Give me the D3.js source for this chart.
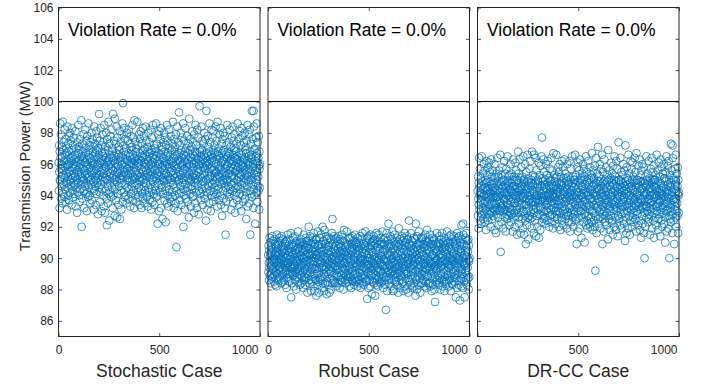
<!DOCTYPE html>
<html><head><meta charset="utf-8">
<script src="https://cdn.jsdelivr.net/npm/d3@7"></script>
<style>
body{margin:0;background:#fff}
svg{display:block}
text{font-family:"Liberation Sans",Arial,Helvetica,sans-serif}
</style>
</head><body>
<svg id="chart" width="704" height="386"></svg>
<script>
// ---------- data ----------
const panelNames = ["Stochastic Case", "Robust Case", "DR-CC Case"];
const violationLabels = ["Violation Rate = 0.0%", "Violation Rate = 0.0%", "Violation Rate = 0.0%"];
const yLabel = "Transmission Power (MW)";
const yTicks = [86, 88, 90, 92, 94, 96, 98, 100, 102, 104, 106];
const xTicks = [0, 500, 1000];
const limitValue = 100;

const stochastic = [
96.1,94.3,97.2,95.5,93.2,96.8,95.0,98.6,94.9,96.4,95.7,97.9,93.8,96.0,95.2,94.6,97.1,96.5,93.5,95.9,
98.7,95.3,94.1,96.9,95.6,97.4,94.7,96.2,93.9,95.1,98.2,96.6,94.4,95.8,97.6,93.6,96.3,95.4,94.8,97.0,
96.7,93.1,95.9,98.4,94.5,96.0,95.2,97.3,94.0,96.8,95.5,93.7,97.8,96.1,94.9,95.6,98.0,94.2,96.4,95.0,
97.5,94.6,96.2,95.3,93.4,96.9,95.8,98.3,94.3,96.5,95.1,97.2,93.9,96.0,94.8,97.7,95.4,96.3,94.1,95.7,
96.6,94.7,95.2,98.1,93.3,96.4,95.9,97.0,94.5,96.1,95.0,92.9,97.4,95.6,94.2,96.7,95.3,98.5,94.8,96.2,
95.5,97.1,94.0,96.3,93.6,95.8,97.6,94.4,96.9,95.2,94.7,96.0,98.8,95.4,92.0,96.5,95.1,97.3,93.8,96.2,
94.9,96.8,95.7,97.9,94.3,95.0,96.4,93.2,97.0,95.6,94.6,96.1,98.2,95.3,94.1,96.7,95.9,97.5,94.8,93.0,
96.3,95.4,97.8,94.2,96.0,95.1,93.9,96.6,98.6,95.7,94.5,96.9,95.2,97.2,94.0,96.4,95.8,93.5,97.4,95.0,
96.1,94.7,95.5,98.0,93.7,96.2,95.3,97.6,94.4,96.8,95.9,94.9,97.1,96.5,93.1,95.6,98.4,94.3,96.0,95.2,
97.3,94.6,96.7,95.0,93.4,96.3,95.7,98.1,94.1,96.9,95.4,97.7,94.8,96.0,95.1,92.8,97.0,96.4,94.5,95.8,
96.6,99.2,95.3,94.2,97.5,96.1,93.6,95.5,98.3,94.7,96.2,95.0,97.2,93.0,96.8,95.6,94.4,97.9,96.3,95.2,
94.0,96.5,97.4,95.4,93.3,96.0,98.5,94.9,95.7,96.7,92.9,97.1,95.1,94.3,96.4,95.8,98.0,93.8,96.1,92.1,
95.0,97.6,96.2,94.6,95.5,93.5,96.9,98.7,94.1,95.9,96.3,92.4,97.3,95.2,94.8,96.6,95.4,97.8,94.2,96.0,
95.7,93.9,98.2,96.4,94.5,95.1,97.0,96.8,93.2,95.6,99.2,94.0,96.2,95.3,97.5,94.7,96.5,95.0,92.7,98.9,
96.1,94.4,95.8,97.3,93.7,96.7,95.2,98.4,94.9,96.0,92.6,97.7,95.5,94.1,96.3,95.9,93.4,97.1,96.6,95.4,
94.6,96.9,95.1,98.1,92.5,96.2,95.7,97.4,94.3,95.0,96.5,93.1,97.9,95.3,94.8,96.0,98.6,95.6,93.6,99.9,
96.4,95.2,97.2,94.2,96.8,95.5,98.3,93.9,96.1,94.7,97.6,95.8,96.6,94.0,95.4,97.0,96.3,93.5,95.0,98.0,
95.7,94.5,96.2,97.5,95.3,93.8,96.7,95.1,98.2,94.4,96.0,95.9,97.3,94.9,96.5,93.3,95.6,97.8,96.1,94.1,
96.9,95.4,94.6,97.1,96.3,95.0,98.5,93.7,96.6,95.2,94.3,97.7,96.0,95.8,93.2,96.4,98.8,95.5,94.8,96.2,
95.1,97.4,94.0,96.8,95.6,93.6,97.0,96.5,94.7,95.3,98.7,96.1,94.2,95.9,97.2,93.9,96.3,95.0,94.5,97.9,
96.0,95.4,93.4,97.6,96.7,94.9,95.2,98.1,94.4,96.2,95.7,93.2,97.3,96.5,95.1,94.1,96.9,98.3,95.5,93.8,
96.4,95.0,97.8,94.6,96.1,95.8,93.5,97.0,96.6,94.3,95.3,98.4,96.0,94.8,95.6,97.5,93.9,96.3,95.2,94.0,
97.1,96.8,95.4,93.3,96.2,98.0,94.5,95.9,96.5,94.2,97.4,95.1,93.7,96.7,95.5,94.7,98.2,96.0,95.3,93.1,
96.9,95.7,94.4,97.7,96.1,95.0,93.6,96.4,98.5,94.9,95.8,96.6,94.1,97.2,95.2,93.4,96.3,95.6,94.6,97.0,
95.9,94.3,96.8,98.6,95.1,93.9,96.5,95.4,97.3,94.0,96.2,92.2,95.7,97.9,96.0,94.8,95.3,96.7,93.0,98.1,
96.3,95.5,94.2,97.6,96.0,95.2,93.2,96.6,98.3,94.7,95.0,96.9,94.5,97.1,95.8,92.5,96.4,95.1,94.1,97.4,
95.6,96.2,94.9,98.0,95.3,93.7,96.8,95.9,97.7,94.3,96.1,92.3,95.4,97.2,96.5,94.6,95.0,98.5,93.5,96.0,
95.7,94.0,96.7,97.5,95.2,93.3,96.3,95.8,98.2,94.4,96.0,95.1,93.8,97.0,96.6,94.8,95.5,97.8,93.6,96.2,
95.0,96.9,94.2,97.3,95.6,93.9,96.1,98.7,94.7,95.3,96.4,93.2,97.6,95.9,94.5,96.8,95.1,97.1,94.0,96.5,
95.4,93.5,97.9,96.0,90.7,95.7,94.3,96.6,98.4,95.2,93.0,96.2,95.8,97.4,94.9,96.3,95.0,99.3,94.1,96.7,
95.5,93.7,97.2,96.1,94.6,95.3,98.0,96.9,94.2,95.9,93.4,96.4,97.7,95.1,94.8,96.0,95.6,98.6,94.4,92.0,
96.6,95.0,97.5,94.0,96.2,95.7,93.1,96.8,98.3,94.7,95.4,96.5,93.8,97.0,95.2,94.3,96.1,95.8,97.8,93.6,
96.3,95.1,94.5,97.3,96.7,95.5,92.6,96.0,98.9,94.9,95.3,96.9,94.1,97.6,95.9,93.3,96.4,95.0,94.6,97.1,
95.6,96.2,94.4,98.1,95.2,93.9,96.6,95.8,97.4,94.0,96.0,92.9,95.4,97.9,96.5,94.8,95.1,96.8,93.5,98.5,
96.1,95.3,94.2,97.2,96.4,95.0,93.2,96.7,98.2,94.6,95.7,96.3,94.9,97.7,95.5,92.8,96.0,95.9,94.3,99.7,
96.8,95.2,97.0,94.1,96.2,95.6,93.7,96.5,98.4,94.7,95.1,96.9,94.4,97.5,96.0,93.4,95.8,96.3,94.9,97.3,
95.4,96.6,94.0,98.0,95.3,93.8,96.1,95.7,97.6,94.5,96.4,92.4,95.0,99.4,96.7,94.2,95.9,96.2,93.1,97.8,
96.5,95.1,94.6,97.1,96.0,95.5,93.5,96.8,98.6,94.8,95.2,96.3,94.3,97.4,95.7,93.0,96.6,95.3,94.0,98.2,
96.2,95.8,94.7,97.7,96.4,95.0,93.6,96.9,98.1,94.2,95.6,96.1,94.5,97.2,95.4,93.9,96.7,95.2,94.8,98.4,
96.0,95.5,94.1,97.5,96.3,95.1,93.3,96.6,98.7,94.6,95.9,96.8,94.4,97.0,95.3,93.7,96.5,95.7,94.9,97.9,
95.2,96.4,94.0,98.3,95.8,93.4,96.1,95.6,97.3,94.7,96.7,92.7,95.4,97.6,96.2,94.3,95.0,98.0,93.8,96.9,
95.5,94.8,96.3,97.8,95.1,93.2,96.0,95.7,91.5,94.5,96.6,95.3,93.6,97.2,96.4,94.9,95.9,98.5,94.2,96.8,
95.0,96.5,94.6,97.4,96.1,95.4,93.9,96.7,98.2,94.1,95.6,96.2,94.4,97.1,95.8,93.1,96.3,95.2,94.7,97.7,
96.0,95.3,94.3,98.4,96.6,95.7,93.5,96.2,97.5,94.8,95.1,96.9,94.0,97.9,95.5,92.9,96.4,95.9,94.5,97.0,
95.6,96.8,94.2,97.3,96.3,95.0,93.7,96.5,98.6,94.6,95.8,96.1,94.9,97.6,95.2,93.4,96.7,95.4,94.1,98.1,
96.2,95.7,94.4,97.2,96.0,95.3,93.0,96.6,98.3,94.7,95.5,96.4,94.0,97.8,95.9,93.6,96.1,95.1,94.8,97.4,
95.8,96.3,94.5,98.0,95.4,93.8,96.9,95.6,97.1,94.2,96.7,92.5,95.0,97.5,96.2,94.6,95.3,98.5,93.3,96.0,
95.2,94.9,96.5,97.9,95.7,93.5,96.1,95.9,98.2,94.3,96.8,91.5,95.5,97.3,96.4,94.1,95.0,96.6,93.9,99.4,
96.3,95.1,94.7,97.6,96.0,95.8,93.2,99.4,98.4,94.4,95.4,96.9,94.0,97.0,95.6,92.2,96.2,95.3,94.8,97.7,
96.5,95.0,94.2,98.6,96.7,95.5,93.6,96.1,97.4,94.6,95.2,96.4,94.3,97.8,95.9,93.1,96.8,95.7,94.5,96.0
];

const robust = [
90.2,89.1,90.8,89.7,88.6,90.5,89.4,91.3,88.9,90.1,89.8,91.0,88.4,90.3,89.5,89.0,90.7,90.4,88.7,89.9,
91.4,89.6,88.8,90.6,89.3,91.1,89.2,90.0,88.5,89.7,91.2,90.3,88.9,89.9,90.9,88.3,90.2,89.4,89.1,90.8,
90.4,88.2,89.8,91.5,89.0,90.1,89.5,90.9,88.6,90.6,89.7,88.7,91.0,90.2,89.3,89.9,91.3,88.8,90.3,89.4,
91.1,89.2,90.0,89.6,88.4,90.7,89.9,91.4,88.9,90.4,89.3,90.8,88.5,90.1,89.0,91.2,89.7,90.5,88.6,89.8,
90.6,89.1,89.5,91.0,88.3,90.3,89.8,90.9,89.2,90.0,89.4,88.1,91.1,89.7,88.8,90.5,89.6,91.5,89.0,90.2,
89.7,90.8,88.7,90.4,88.5,89.9,91.2,89.0,90.6,89.5,89.1,90.1,91.6,89.4,87.5,90.4,89.3,90.9,88.4,90.2,
89.0,90.7,89.8,91.3,88.9,89.4,90.3,88.2,90.8,89.6,89.2,90.0,91.4,89.5,88.6,90.5,89.9,91.0,89.1,88.0,
90.3,89.7,91.1,88.8,90.1,89.3,88.5,90.6,91.7,89.8,89.0,90.7,89.4,90.9,88.7,90.4,89.9,88.3,91.0,89.2,
90.2,88.9,89.6,91.2,88.4,90.1,89.5,91.0,88.8,90.6,90.0,89.1,90.8,90.4,88.1,89.7,91.5,88.6,90.0,89.4,
90.9,88.8,90.5,89.3,88.3,90.2,89.8,91.3,88.7,90.7,89.6,91.1,89.0,90.1,89.2,87.8,90.8,90.3,88.9,89.9,
90.6,92.0,89.5,88.6,91.1,90.2,88.4,89.7,91.4,89.1,90.3,89.3,90.9,87.9,90.6,89.8,88.8,91.3,90.2,89.4,
88.5,90.4,91.0,89.6,88.2,90.0,91.6,89.0,89.8,90.7,87.9,90.9,89.3,88.7,90.4,90.0,91.2,88.6,90.2,87.6,
89.3,91.2,90.2,89.0,89.7,88.3,90.8,91.7,88.5,89.9,90.3,87.8,90.9,89.4,89.1,90.6,89.6,91.3,88.7,90.1,
89.8,88.6,91.5,90.4,88.8,89.4,90.9,90.7,88.1,89.7,92.0,88.4,90.2,89.5,91.1,89.0,90.5,89.3,87.9,91.8,
90.1,88.8,89.9,90.9,88.4,90.6,89.4,91.4,89.1,90.0,87.7,91.2,89.7,88.5,90.3,89.9,88.3,90.8,90.5,89.6,
89.0,90.7,89.3,91.3,87.8,90.2,89.8,91.0,88.7,89.2,90.4,88.0,91.2,89.5,89.1,90.0,91.6,89.7,88.4,92.5,
90.4,89.4,90.9,88.6,90.6,89.6,91.4,88.5,90.1,89.0,91.2,89.9,90.5,88.4,89.5,90.8,90.3,88.2,89.3,91.3,
89.8,88.9,90.2,91.1,89.5,88.4,90.6,89.3,91.4,88.8,90.0,89.9,90.9,89.1,90.4,88.1,89.7,91.2,90.1,88.6,
90.7,89.6,88.9,90.8,90.3,89.2,91.5,88.5,90.5,89.4,88.7,91.1,90.0,89.8,88.0,90.4,91.8,89.7,89.0,90.2,
89.3,91.0,88.6,90.7,89.7,88.4,90.8,90.4,88.9,89.5,91.7,90.1,88.7,89.9,90.9,88.5,90.3,89.2,88.8,91.3,
90.0,89.5,88.2,91.2,90.6,89.0,89.4,91.3,88.8,90.2,89.8,88.1,90.9,90.5,89.3,88.6,90.7,91.4,89.6,88.5,
90.4,89.2,91.1,88.9,90.1,89.9,88.3,90.8,90.6,88.7,89.5,91.5,90.0,89.0,89.7,91.0,88.5,90.3,89.4,88.6,
90.9,90.7,89.6,88.2,90.2,91.3,88.8,89.9,90.5,88.6,91.0,89.3,88.4,90.6,89.7,89.1,91.4,90.0,89.5,88.1,
90.8,89.8,88.8,91.2,90.1,89.2,88.4,90.4,91.6,89.0,89.9,90.6,88.7,90.9,89.4,88.3,90.3,89.7,88.9,90.7,
89.9,88.7,90.8,91.7,89.3,88.5,90.5,89.6,91.0,88.6,90.2,87.4,89.8,91.3,90.0,89.1,89.5,90.7,88.1,91.4,
90.3,89.6,88.6,91.2,90.0,89.4,88.2,90.6,91.5,89.0,89.2,90.8,88.9,91.0,89.8,87.7,90.4,89.3,88.5,91.1,
89.7,90.2,89.0,91.4,89.5,88.4,90.8,89.9,91.2,88.7,90.1,87.6,89.6,90.9,90.5,88.9,89.2,91.6,88.3,90.0,
89.8,88.6,90.7,91.1,89.4,88.2,90.3,89.9,91.5,88.8,90.0,89.3,88.5,90.9,90.6,89.1,89.7,91.3,88.4,90.2,
89.2,90.9,88.7,91.0,89.6,88.5,90.1,91.7,89.0,89.5,90.4,88.1,91.2,89.9,88.8,90.8,89.3,90.9,88.6,90.5,
89.5,88.3,91.3,90.0,86.7,89.8,88.8,90.6,91.6,89.4,87.9,90.2,89.8,91.1,89.1,90.3,89.2,92.2,88.6,90.7,
89.6,88.4,90.9,90.1,89.0,89.5,91.4,90.8,88.7,89.9,88.2,90.4,91.2,89.3,89.1,90.0,89.7,91.7,88.9,87.9,
90.6,89.2,91.1,88.6,90.2,89.8,88.0,90.8,91.5,89.0,89.6,90.5,88.5,90.9,89.4,88.8,90.1,89.9,91.3,88.3,
90.3,89.3,89.0,91.0,90.7,89.7,87.8,90.0,91.9,89.1,89.5,90.9,88.6,91.2,89.9,88.1,90.4,89.2,88.9,90.8,
89.7,90.2,88.8,91.4,89.4,88.4,90.6,89.8,91.1,88.5,90.0,87.9,89.6,91.3,90.5,89.0,89.3,90.8,88.2,91.6,
90.1,89.5,88.7,91.0,90.4,89.2,88.0,90.7,91.4,89.0,89.8,90.3,89.1,91.2,89.6,87.8,90.0,89.9,88.6,92.4,
90.8,89.4,90.9,88.5,90.2,89.7,88.3,90.5,91.6,88.9,89.3,90.8,88.7,91.1,90.0,88.1,89.9,90.3,89.1,91.0,
89.6,90.6,88.4,91.3,89.5,88.2,90.1,89.8,91.2,88.8,90.4,87.6,89.2,92.2,90.7,88.6,89.9,90.2,88.0,91.4,
90.5,89.3,88.9,90.9,90.0,89.6,88.3,90.8,91.7,89.1,89.4,90.3,88.7,91.0,89.8,87.8,90.6,89.5,88.4,91.3,
90.2,89.9,89.0,91.2,90.4,89.2,88.4,90.9,91.3,88.6,89.7,90.1,88.9,90.9,89.6,88.2,90.7,89.4,89.1,91.5,
90.0,89.7,88.5,91.1,90.3,89.3,88.1,90.6,91.8,88.9,89.9,90.8,88.8,91.0,89.5,88.4,90.5,89.8,89.2,91.2,
89.4,90.4,88.4,91.5,89.8,88.2,90.1,89.7,90.9,89.0,90.7,87.9,89.6,91.1,90.2,88.7,89.3,91.3,88.3,90.9,
89.7,89.1,90.3,91.2,89.4,88.0,90.0,89.8,87.2,88.8,90.6,89.5,88.5,90.9,90.4,89.2,89.9,91.6,88.6,90.8,
89.3,90.5,88.9,91.0,90.1,89.6,88.3,90.7,91.4,88.4,89.7,90.2,88.7,90.9,89.8,88.0,90.3,89.4,89.0,91.2,
90.0,89.5,88.6,91.6,90.6,89.8,88.2,90.2,91.0,89.1,89.3,90.9,88.5,91.3,89.6,87.9,90.4,89.9,88.8,90.7,
89.7,90.8,88.5,91.1,90.3,89.2,88.4,90.5,91.7,88.9,89.8,90.1,89.0,91.0,89.4,88.2,90.7,89.6,88.6,91.4,
90.2,89.8,88.7,90.9,90.0,89.5,87.9,90.6,91.5,89.0,89.6,90.4,88.4,91.2,89.9,88.3,90.1,89.3,89.1,91.0,
89.8,90.3,88.8,91.4,89.6,88.5,90.9,89.7,90.8,88.7,90.7,87.5,89.2,91.1,90.2,88.9,89.5,91.6,88.1,90.0,
89.4,89.0,90.5,91.3,89.8,88.3,90.1,89.9,91.4,88.6,90.8,87.3,89.7,91.0,90.4,88.7,89.2,90.6,88.2,92.1,
90.3,89.3,89.0,91.2,90.0,89.8,88.1,92.2,91.5,88.8,89.6,90.9,88.5,90.8,89.7,87.5,90.2,89.5,89.1,91.3,
90.5,89.2,88.6,91.6,90.7,89.7,88.3,90.1,91.1,88.9,89.4,90.4,88.7,91.2,89.9,88.0,90.8,89.8,88.8,90.0
];

const drcc = [
94.3,92.7,95.2,93.8,91.9,94.8,93.4,96.4,93.1,94.5,94.0,95.7,92.4,94.2,93.6,93.0,95.1,94.6,92.2,94.1,
96.5,93.7,92.8,94.9,93.9,95.4,93.2,94.4,92.5,93.5,96.0,94.7,92.9,94.0,95.6,92.3,94.5,93.6,93.1,95.0,
94.8,91.8,94.1,96.2,93.0,94.3,93.6,95.3,92.6,94.9,93.9,92.4,95.8,94.4,93.3,94.0,96.1,92.8,94.6,93.4,
95.5,93.0,94.2,93.8,92.0,94.9,94.1,96.3,92.9,94.7,93.5,95.2,92.5,94.3,93.2,95.6,93.9,94.5,92.7,93.9,
94.8,93.1,93.5,96.0,91.8,94.5,94.0,95.1,93.0,94.2,93.4,91.6,95.4,93.9,92.8,94.8,93.7,96.4,93.2,94.3,
93.9,95.2,92.6,94.6,92.1,94.0,95.6,93.1,94.9,93.6,93.0,94.2,96.6,93.5,90.4,94.7,93.3,95.3,92.3,94.4,
93.2,94.9,94.0,95.8,93.0,93.4,94.6,91.9,95.0,93.8,93.1,94.2,96.2,93.7,92.6,94.7,94.1,95.4,93.1,91.7,
94.5,93.8,95.7,92.8,94.2,93.5,92.5,94.8,96.5,94.0,93.0,94.9,93.4,95.2,92.7,94.6,94.0,92.1,95.3,93.2,
94.4,92.9,93.7,96.0,92.3,94.3,93.6,95.4,92.8,94.8,94.2,93.1,95.0,94.6,91.7,93.8,96.3,92.6,94.1,93.5,
95.2,92.9,94.6,93.5,92.0,94.4,94.0,96.1,92.7,94.9,93.8,95.6,93.1,94.2,93.3,91.5,95.0,94.5,92.9,94.0,
94.8,96.8,93.6,92.6,95.4,94.3,92.2,93.9,96.3,93.2,94.5,93.4,95.1,91.6,94.8,94.0,92.9,95.8,94.4,93.5,
92.5,94.6,95.2,93.8,91.9,94.1,96.5,93.0,93.9,94.9,91.5,95.0,93.4,92.7,94.6,94.1,96.0,92.4,94.3,90.9,
93.4,95.5,94.4,93.0,93.8,92.1,94.9,96.6,92.6,94.0,94.5,91.2,95.1,93.6,93.2,94.8,93.7,95.7,92.7,94.2,
94.0,92.5,96.2,94.6,92.9,93.5,95.0,94.8,91.9,93.8,96.8,92.6,94.3,93.6,95.3,93.1,94.7,93.4,91.6,96.6,
94.2,92.9,94.1,95.2,92.4,94.8,93.6,96.4,93.2,94.0,91.4,95.6,93.8,92.7,94.5,94.0,92.0,95.0,94.7,93.7,
93.1,94.9,93.5,96.1,91.3,94.3,94.0,95.3,92.8,93.3,94.6,91.8,95.9,93.7,93.2,94.1,96.5,93.9,92.3,97.7,
94.6,93.6,95.1,92.7,94.9,93.8,96.3,92.5,94.3,93.0,95.5,94.0,94.7,92.6,93.7,95.0,94.5,92.2,93.4,96.0,
94.0,93.0,94.4,95.3,93.7,92.4,94.8,93.5,96.2,92.9,94.1,94.0,95.1,93.2,94.6,92.0,93.9,95.7,94.2,92.7,
94.9,93.8,93.1,95.0,94.5,93.4,96.4,92.3,94.7,93.6,92.8,95.6,94.1,94.0,91.9,94.6,96.7,93.9,93.2,94.4,
93.5,95.3,92.6,94.9,93.9,92.2,95.1,94.6,93.0,93.7,96.6,94.3,92.8,94.1,95.2,92.5,94.5,93.4,93.0,95.8,
94.2,93.7,92.0,95.5,94.8,93.2,93.6,96.0,92.9,94.4,94.0,91.8,95.2,94.7,93.5,92.6,94.9,96.2,93.8,92.4,
94.6,93.3,95.8,93.0,94.3,94.1,92.1,95.1,94.8,92.8,93.6,96.3,94.2,93.1,93.9,95.4,92.5,94.5,93.6,92.7,
95.1,94.9,93.8,91.9,94.4,96.0,92.9,94.1,94.7,92.7,95.2,93.4,92.3,94.8,93.9,93.2,96.2,94.2,93.7,91.7,
95.0,94.0,92.9,95.7,94.3,93.3,92.3,94.6,96.5,93.1,94.0,94.8,92.6,95.2,93.6,92.0,94.5,93.9,93.0,95.0,
94.1,92.8,95.0,96.6,93.4,92.4,94.7,93.8,95.3,92.5,94.4,90.9,94.0,95.8,94.2,93.2,93.6,94.9,91.7,96.1,
94.5,93.8,92.6,95.6,94.2,93.5,91.9,94.8,96.3,93.0,93.3,95.0,93.0,95.1,94.0,91.3,94.6,93.4,92.6,95.4,
93.9,94.4,93.1,96.0,93.6,92.3,95.0,94.1,95.7,92.8,94.3,91.0,93.7,95.2,94.7,92.9,93.3,96.5,92.1,94.2,
94.0,92.4,94.9,95.5,93.5,91.9,94.5,94.0,96.2,92.7,94.2,93.4,92.2,95.0,94.8,93.1,93.8,95.8,92.0,94.4,
93.3,95.1,92.6,95.3,93.8,92.3,94.3,96.7,93.0,93.6,94.6,91.8,95.6,94.1,92.9,95.0,93.4,95.1,92.4,94.7,
93.7,92.0,95.9,94.2,89.2,94.0,92.7,94.8,96.4,93.5,91.6,94.4,94.0,95.4,93.2,94.5,93.3,97.1,92.5,94.9,
93.8,92.2,95.2,94.3,93.0,93.6,96.0,94.9,92.6,94.1,91.9,94.6,95.7,93.4,93.1,94.2,93.9,96.6,92.8,90.9,
94.8,93.3,95.5,92.5,94.4,94.0,91.7,94.9,96.3,93.0,93.7,94.7,92.3,95.0,93.5,92.7,94.3,94.0,95.8,92.1,
94.5,93.4,92.9,95.3,94.9,93.8,91.2,94.2,96.9,93.2,93.6,95.0,92.5,95.6,94.1,91.8,94.6,93.3,93.0,95.1,
93.9,94.4,92.7,96.1,93.5,92.3,94.8,94.0,95.4,92.4,94.2,91.5,93.7,95.9,94.7,93.1,93.4,95.0,92.0,96.5,
94.3,93.6,92.6,95.2,94.6,93.3,91.8,94.9,96.2,93.0,94.0,94.5,93.2,95.7,93.8,91.4,94.2,94.1,92.7,97.4,
95.0,93.5,95.0,92.5,94.4,93.9,92.1,94.7,96.4,93.1,93.4,94.9,92.8,95.5,94.2,91.9,94.0,94.5,93.3,95.3,
93.7,94.8,92.4,96.0,93.6,92.2,94.3,93.9,95.6,92.9,94.6,91.1,93.3,97.2,94.9,92.6,94.1,94.4,91.6,95.8,
94.7,93.4,93.0,95.1,94.2,93.8,91.9,95.0,96.6,93.2,93.5,94.5,92.7,95.4,94.0,91.5,94.8,93.7,92.4,96.2,
94.4,94.0,93.1,95.7,94.6,93.3,92.0,95.0,96.1,92.6,93.9,94.3,92.9,95.2,93.7,92.3,94.9,93.5,93.2,96.4,
94.2,93.8,92.5,95.5,94.5,93.4,91.7,94.8,96.7,93.0,94.1,95.0,92.8,95.0,93.6,92.1,94.7,94.0,93.3,95.9,
93.5,94.6,92.4,96.3,94.0,91.8,94.3,93.8,95.3,93.1,94.9,91.3,93.7,95.6,94.4,92.7,93.3,96.0,92.2,94.9,
93.8,93.2,94.5,95.8,93.4,91.6,94.2,94.0,90.0,92.9,94.8,93.6,92.0,95.2,94.6,93.3,94.1,96.5,92.6,95.0,
93.3,94.7,93.0,95.4,94.3,93.7,92.3,94.9,96.2,92.5,93.8,94.4,92.8,95.1,94.0,91.5,94.5,93.5,93.1,95.7,
94.2,93.6,92.7,96.4,94.8,94.0,91.9,94.4,95.5,93.2,93.4,95.0,92.4,95.9,93.8,91.3,94.6,94.1,92.9,95.0,
93.9,95.0,92.6,95.3,94.5,93.3,92.1,94.7,96.6,93.0,94.0,94.3,93.3,95.6,93.5,91.8,94.9,93.7,92.5,96.1,
94.4,94.0,92.8,95.2,94.2,93.6,91.4,94.8,96.3,93.1,93.8,94.6,92.4,95.8,94.1,92.0,94.3,93.4,93.2,95.4,
94.0,94.5,92.9,96.0,93.7,92.2,95.1,93.9,95.1,92.6,94.9,91.0,93.3,95.5,94.4,93.0,93.6,96.5,91.7,94.2,
93.5,93.1,94.7,95.9,93.9,91.9,94.3,94.1,96.2,92.7,95.0,90.0,93.8,95.3,94.6,92.5,93.2,94.8,92.3,97.3,
94.5,93.4,93.0,95.6,94.2,94.0,91.6,97.2,96.4,92.8,93.7,95.1,92.4,95.0,93.8,90.9,94.4,93.6,93.1,95.7,
94.7,93.3,92.6,96.6,94.9,93.8,92.0,94.3,95.4,93.0,93.5,94.6,92.7,95.8,94.1,91.6,95.0,94.0,92.9,94.2
];

// ---------- layout ----------
const panelLeft = [58.5, 268, 477.5];
const panelWidth = 201.5;
const plotTop = 7.5, plotBottom = 336.5;
const seriesList = [stochastic, robust, drcc];
const markerColor = "#0072BD";
const axisColor = "#262626";
const fontFam = '"Liberation Sans", Arial, Helvetica, sans-serif';

const svg = d3.select("#chart");
const y = d3.scaleLinear().domain([85, 106]).range([plotBottom, plotTop]);

panelNames.forEach((name, k) => {
  const x0 = panelLeft[k], x1 = x0 + panelWidth;
  const x = d3.scaleLinear().domain([0, 1000]).range([x0, x1]);
  const g = svg.append("g");

  // markers
  g.append("g").selectAll("circle").data(seriesList[k]).join("circle")
    .attr("cx", (d, i) => x(i + 1))
    .attr("cy", d => y(d))
    .attr("r", 3.9)
    .attr("fill", "none")
    .attr("stroke", markerColor)
    .attr("stroke-width", 0.75);

  // limit line
  g.append("line")
    .attr("x1", x(0)).attr("x2", x(1000))
    .attr("y1", y(limitValue)).attr("y2", y(limitValue))
    .attr("stroke", "#000").attr("stroke-width", 1.1);

  // axes
  const yl = d3.axisLeft(y).tickValues(yTicks).tickSize(-3.5).tickPadding(5)
    .tickFormat(k === 0 ? d3.format("d") : () => "");
  const yr = d3.axisRight(y).tickValues(yTicks).tickSize(-3.5).tickFormat(() => "");
  const xb = d3.axisBottom(x).tickValues(xTicks).tickSize(-3.5).tickPadding(9).tickFormat(d3.format("d"));
  const xt = d3.axisTop(x).tickValues(xTicks).tickSize(-3.5).tickFormat(() => "");

  const styleAxis = sel => {
    sel.select(".domain").remove();
    sel.selectAll("line").attr("stroke", axisColor).attr("stroke-width", 0.8);
    sel.selectAll("text").attr("fill", axisColor).style("font-family", fontFam).style("font-size", "12px");
  };
  g.append("g").attr("transform", `translate(${x0},0)`).call(yl).call(styleAxis);
  g.append("g").attr("transform", `translate(${x1},0)`).call(yr).call(styleAxis);
  const gb = g.append("g").attr("transform", `translate(0,${plotBottom})`).call(xb).call(styleAxis);
  g.append("g").attr("transform", `translate(0,${plotTop})`).call(xt).call(styleAxis);
  gb.selectAll(".tick text").filter(d => d === 1000).attr("text-anchor", "end").attr("x", -2);

  // frame
  g.append("rect")
    .attr("x", x0).attr("y", plotTop)
    .attr("width", panelWidth).attr("height", plotBottom - plotTop)
    .attr("fill", "none").attr("stroke", axisColor).attr("stroke-width", 1);

  // violation text
  g.append("text")
    .attr("x", x0 + 9.5).attr("y", 36)
    .style("font-family", fontFam).style("font-size", "17.5px")
    .attr("fill", "#000")
    .text(violationLabels[k]);

  // x title
  g.append("text")
    .attr("x", (x0 + x1) / 2).attr("y", 377)
    .attr("text-anchor", "middle")
    .style("font-family", fontFam).style("font-size", "17.5px")
    .attr("fill", axisColor)
    .text(name);
});

// y label
svg.append("text")
  .attr("transform", `translate(29.5,166) rotate(-90)`)
  .attr("text-anchor", "middle")
  .style("font-family", fontFam).style("font-size", "14.5px")
  .attr("fill", axisColor)
  .text(yLabel);
</script>
</body></html>
